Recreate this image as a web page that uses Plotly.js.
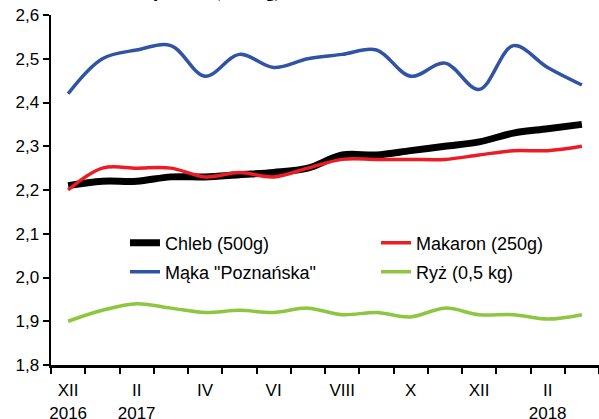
<!DOCTYPE html>
<html>
<head>
<meta charset="utf-8">
<script src="https://cdn.plot.ly/plotly-3.0.1.min.js"></script>
<style>html,body{margin:0;padding:0;background:#fff;}#chart{width:599px;height:419px;}</style>
</head>
<body>
<div id="chart"></div>
<script>
// Months from XII 2016 to III 2018
const months = ["XII 2016","I 2017","II 2017","III 2017","IV 2017","V 2017","VI 2017","VII 2017","VIII 2017","IX 2017","X 2017","XI 2017","XII 2017","I 2018","II 2018","III 2018"];
const tickLabels = ["XII<br>2016","","II<br>2017","","IV","","VI","","VIII","","X","","XII","","II<br>2018",""];

const chleb   = [2.21,2.22,2.22,2.23,2.23,2.235,2.24,2.25,2.28,2.28,2.29,2.30,2.31,2.33,2.34,2.35];
const makaron = [2.20,2.25,2.25,2.25,2.23,2.24,2.23,2.25,2.27,2.27,2.27,2.27,2.28,2.29,2.29,2.30];
const maka    = [2.42,2.50,2.52,2.53,2.46,2.51,2.48,2.50,2.51,2.52,2.46,2.49,2.43,2.53,2.48,2.44];
const ryz     = [1.90,1.925,1.94,1.93,1.92,1.925,1.92,1.93,1.915,1.92,1.91,1.93,1.915,1.915,1.905,1.915];

const names = ["Chleb (500g)","Makaron (250g)","Mąka \"Poznańska\"","Ryż (0,5 kg)"];
const series = [chleb, makaron, maka, ryz];
const colors = ["#000000","#ED1C24","#3153A5","#8DC63F"];
const widths = [7,3.5,3.5,3.5];
const legendIds = ["legend","legend2","legend3","legend4"];

const idx = months.map((m,i)=>i);

const traces = series.map((s,k)=>({
  x: idx, y: s, name: names[k], type:'scatter', mode:'lines',
  text: months, hoverinfo:'text+y', legend: legendIds[k],
  line:{color:colors[k], width:widths[k], shape:'spline', smoothing:1}
}));

function leg(x, y){
  return {orientation:'v', x:x, xanchor:'left', y:y, yanchor:'top',
          font:{size:18, color:'#000'}, bgcolor:'rgba(0,0,0,0)'};
}

const layout = {
  width:599, height:419,
  margin:{l:51, r:0, t:15, b:54},
  paper_bgcolor:'#fff', plot_bgcolor:'#fff',
  separators:', ',
  font:{family:'"Liberation Sans", Arial, sans-serif', size:17, color:'#000'},
  showlegend:true,
  legend: leg(0.1350, 0.4014),
  legend2: leg(0.5931, 0.4014),
  legend3: leg(0.1350, 0.3186),
  legend4: leg(0.5931, 0.3186),
  xaxis:{range:[-0.5,15.5], tickmode:'array', tickvals:idx, ticktext:tickLabels,
         ticks:'', showgrid:false, zeroline:false, showline:true, linecolor:'#000', linewidth:3,
         tickfont:{size:17}, ticklabelstandoff:8,
         minor:{tickmode:'linear', tick0:-0.5, dtick:1, ticks:'outside', ticklen:6, tickwidth:2, tickcolor:'#000', showgrid:false}},
  yaxis:{range:[1.8,2.6], dtick:0.1, tick0:1.8, tickformat:'.1f', ticks:'outside', ticklen:6, tickwidth:2, tickcolor:'#000',
         showgrid:false, zeroline:false, showline:true, linecolor:'#000', linewidth:2.5,
         tickfont:{size:17}},
  annotations:[{text:'<b>Średnia cena artykułów (w zł/kg)</b>', xref:'paper', yref:'paper',
    x:(283-51)/548, xanchor:'right', y:1.0315, yanchor:'bottom', showarrow:false,
    font:{family:'"Liberation Serif", "Times New Roman", serif', size:18, color:'#000'}}]
};

Plotly.newPlot('chart', traces, layout, {displayModeBar:false, staticPlot:true});
</script>
</body>
</html>
